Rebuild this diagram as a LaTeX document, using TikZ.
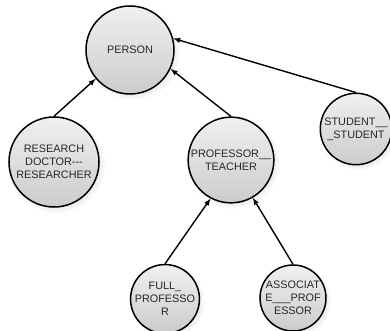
\documentclass[tikz,border=0pt]{standalone}
\usepackage{fontspec}
\setmainfont{Liberation Sans}
\usepackage{tikz}
\usetikzlibrary{shadows}
\pgfdeclarelayer{bg}
\pgfsetlayers{bg,main}
\tikzset{
    every node/.style={circle, inner sep=0mm, draw, line width=1.5pt, align=center,
        top color=gray!12, bottom color=gray!40, text=black!85,
        circular drop shadow={shadow xshift=.07cm, shadow yshift=-.07cm, opacity=.15},
        font=\fontsize{10.8}{13}\selectfont}
}
\begin{document}
\begin{tikzpicture}
        \useasboundingbox (0cm, 0cm) rectangle (13.650000cm, -11.585000cm);
        \node (person) [minimum size=3.08cm] at (4.550000cm, -1.750000cm) {PERSON};
        \node (research) [minimum size=3.15cm] at (1.890000cm, -5.670000cm) {RESEARCH\\DOCTOR-{}-{}-\\RESEARCHER};
        \node (teacher) [minimum size=3.00cm] at (8.085000cm, -5.600000cm) {PROFESSOR\_\_\\TEACHER};
        \node (student) [minimum size=2.50cm] at (12.460000cm, -4.515000cm) {STUDENT\_\_\\\_STUDENT};
        \node (full) [minimum size=2.31cm] at (5.775000cm, -10.465000cm) {FULL\_\\PROFESSO\\R};
        \node (assoc) [minimum size=2.31cm] at (10.255000cm, -10.430000cm) {ASSOCIAT\\E\_\_\_PROF\\ESSOR};
        \begin{pgfonlayer}{bg}
                \draw (research.north) edge [line width=1.4pt, -latex] (person.220);
                \draw (teacher.north) edge [line width=1.4pt, -latex] (person.-25);
                \draw (student.north) edge [line width=1.4pt, -latex] (person.15);
                \draw (full.north) edge [line width=1.4pt, -latex] (teacher.242);
                \draw (assoc.north) edge [line width=1.4pt, -latex] (teacher.300);
        \end{pgfonlayer}
\end{tikzpicture}
\end{document}
